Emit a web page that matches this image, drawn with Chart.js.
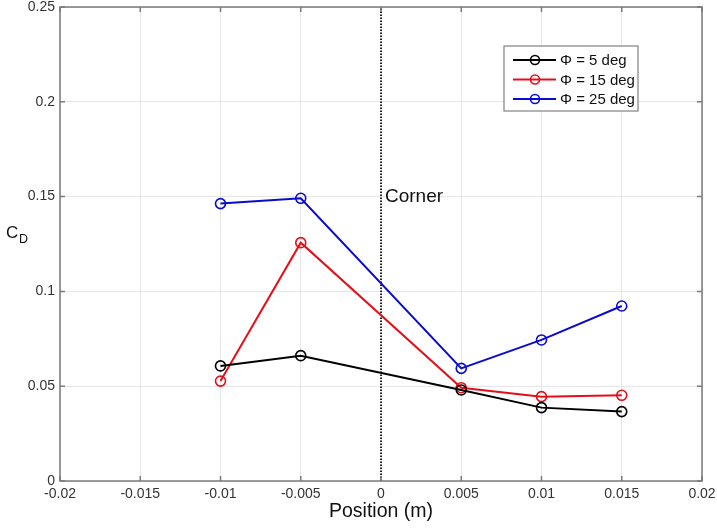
<!DOCTYPE html>
<html>
<head>
<meta charset="utf-8">
<script src="https://cdn.jsdelivr.net/npm/chart.js@4"></script>
<style>
  html, body { margin: 0; padding: 0; background: #fff; }
  #wrap { width: 717px; height: 528px; }
</style>
</head>
<body>
<div id="wrap"><canvas id="cdChart" width="717" height="528"></canvas></div>
<script>
// positions along the plate (m)
const positions = [-0.01, -0.005, 0.005, 0.01, 0.015];
const cd5 = [0.0607, 0.0661, 0.0480, 0.0387, 0.0366];
const cd15 = [0.0527, 0.1257, 0.0492, 0.0445, 0.0452];
const cd25 = [0.1463, 0.1491, 0.0594, 0.0744, 0.0923];
const seriesLabels = ['\u03A6 = 5 deg', '\u03A6 = 15 deg', '\u03A6 = 25 deg'];
const seriesColors = ['#000000', '#e3101a', '#0a0ad0'];
const xTicks = [-0.02, -0.015, -0.01, -0.005, 0, 0.005, 0.01, 0.015, 0.02];
const yTicks = [0, 0.05, 0.1, 0.15, 0.2, 0.25];
const cornerX = 0;

const FONT = "'Liberation Sans', Arial, sans-serif";

function makeSeries(values, i) {
    return {
        label: seriesLabels[i],
        data: positions.map((x, k) => ({ x: x, y: values[k] })),
        borderColor: seriesColors[i],
        backgroundColor: 'rgba(0,0,0,0)',
        borderWidth: 2,
        pointRadius: 5,
        pointBorderWidth: 1.6,
        pointStyle: 'circle',
        tension: 0
    };
}

// box, inner ticks, axis titles, corner label and legend
const decorations = {
    id: 'decorations',
    afterDatasetsDraw(chart) {
        const ctx = chart.ctx;
        const a = chart.chartArea;
        const xs = chart.scales.x, ys = chart.scales.y;
        ctx.save();
        ctx.strokeStyle = '#7a7a7a';
        ctx.lineWidth = 1.5;
        ctx.strokeRect(a.left, a.top, a.right - a.left, a.bottom - a.top);
        ctx.beginPath();
        xTicks.forEach(v => {
            const px = xs.getPixelForValue(v);
            ctx.moveTo(px, a.bottom); ctx.lineTo(px, a.bottom - 5);
            ctx.moveTo(px, a.top); ctx.lineTo(px, a.top + 5);
        });
        yTicks.forEach(v => {
            const py = ys.getPixelForValue(v);
            ctx.moveTo(a.left, py); ctx.lineTo(a.left + 5, py);
            ctx.moveTo(a.right, py); ctx.lineTo(a.right - 5, py);
        });
        ctx.stroke();

        // Corner label
        ctx.fillStyle = '#111';
        ctx.font = '19px ' + FONT;
        ctx.textBaseline = 'middle';
        ctx.textAlign = 'left';
        ctx.fillText('Corner', xs.getPixelForValue(cornerX) + 4, 197);

        // axis titles
        ctx.textAlign = 'center';
        ctx.font = '19.5px ' + FONT;
        ctx.fillText('Position (m)', (a.left + a.right) / 2, 512);
        ctx.textAlign = 'left';
        ctx.font = '17px ' + FONT;
        ctx.fillText('C', 6, 233);
        ctx.font = '12.5px ' + FONT;
        ctx.fillText('D', 19, 240);

        // legend
        const lx = 504, ly = 46, lw = 134, lh = 65;
        ctx.fillStyle = '#fff';
        ctx.fillRect(lx, ly, lw, lh);
        ctx.strokeStyle = '#808080';
        ctx.lineWidth = 1.2;
        ctx.strokeRect(lx, ly, lw, lh);
        ctx.font = '15px ' + FONT;
        ctx.textAlign = 'left';
        chart.data.datasets.slice(0, 3).forEach((ds, i) => {
            const yy = ly + 14 + i * 19.5;
            ctx.strokeStyle = ds.borderColor;
            ctx.lineWidth = 2;
            ctx.beginPath();
            ctx.moveTo(lx + 9, yy); ctx.lineTo(lx + 52, yy);
            ctx.stroke();
            ctx.lineWidth = 1.6;
            ctx.beginPath();
            ctx.arc(lx + 31, yy, 4.5, 0, Math.PI * 2);
            ctx.stroke();
            ctx.fillStyle = '#111';
            ctx.fillText(ds.label, lx + 56, yy + 1);
        });
        ctx.restore();
    }
};

const cdChart = new Chart(document.getElementById('cdChart'), {
    type: 'line',
    data: {
        datasets: [
            makeSeries(cd5, 0),
            makeSeries(cd15, 1),
            makeSeries(cd25, 2),
            {
                label: 'Corner',
                data: [{ x: cornerX, y: 0 }, { x: cornerX, y: 0.25 }],
                borderColor: '#222',
                borderWidth: 2,
                borderDash: [1.5, 1.5],
                pointRadius: 0
            }
        ]
    },
    options: {
        responsive: false,
        animation: false,
        layout: { padding: { left: 0, right: 15, top: 7, bottom: 0 } },
        plugins: {
            legend: { display: false },
            tooltip: { enabled: false }
        },
        scales: {
            x: {
                type: 'linear',
                min: -0.02,
                max: 0.02,
                afterBuildTicks: s => { s.ticks = xTicks.map(v => ({ value: v })); },
                afterFit: s => { s.height = 47; s.paddingLeft = 0; s.paddingRight = 0; },
                grid: { color: '#e6e6e6', drawTicks: false },
                border: { display: false },
                ticks: {
                    padding: 5,
                    color: '#333',
                    font: { family: FONT, size: 14 },
                    maxRotation: 0,
                    callback: v => String(parseFloat(v.toFixed(3)))
                }
            },
            y: {
                type: 'linear',
                min: 0,
                max: 0.25,
                afterBuildTicks: s => { s.ticks = yTicks.map(v => ({ value: v })); },
                afterFit: s => { s.width = 60; s.paddingTop = 0; s.paddingBottom = 0; },
                grid: { color: '#e6e6e6', drawTicks: false },
                border: { display: false },
                ticks: {
                    padding: 5,
                    color: '#333',
                    font: { family: FONT, size: 14 },
                    callback: v => String(parseFloat(v.toFixed(3)))
                }
            }
        }
    },
    plugins: [decorations]
});
</script>
</body>
</html>
